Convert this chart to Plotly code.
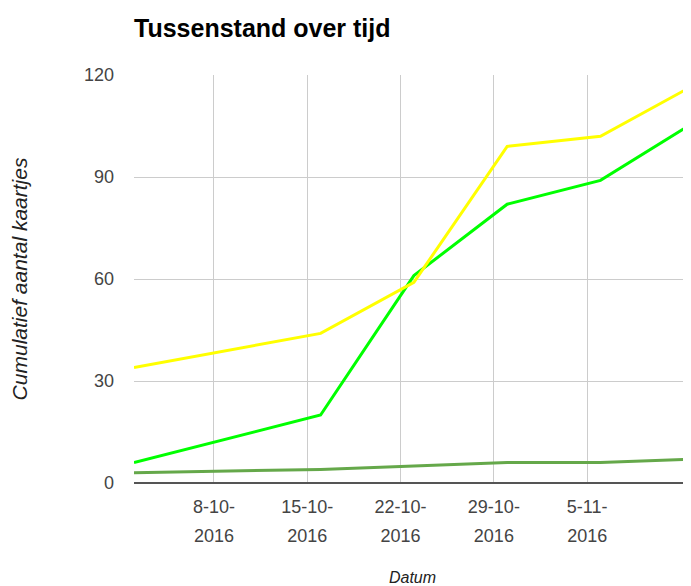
import plotly.graph_objects as go

# ---- data ----
dates = ["2016-10-02", "2016-10-16", "2016-10-23", "2016-10-30", "2016-11-06", "2016-11-13"]
series_yellow = [34, 44, 59, 99, 102, 117]
series_green = [6, 20, 61, 82, 89, 106]
series_darkgreen = [3, 4, 5, 6, 6, 7]

tick_dates = ["2016-10-08", "2016-10-15", "2016-10-22", "2016-10-29", "2016-11-05"]
tick_line1 = ["8-10-", "15-10-", "22-10-", "29-10-", "5-11-"]
tick_line2 = ["2016", "2016", "2016", "2016", "2016"]
y_ticks = [0, 30, 60, 90, 120]

x_range = ["2016-10-02", "2016-11-12 19:00"]

FONT = "Arial, Liberation Sans, sans-serif"

fig = go.Figure()
for vals, col in [(series_darkgreen, "#65a84a"), (series_green, "#00ff00"), (series_yellow, "#ffff00")]:
    fig.add_trace(go.Scatter(x=dates, y=vals, mode="lines",
                             line=dict(color=col, width=3), showlegend=False,
                             hoverinfo="skip"))
# invisible companion trace so the second (year) tick row is drawn
fig.add_trace(go.Scatter(x=dates, y=series_darkgreen, xaxis="x2", mode="lines",
                         line=dict(color="rgba(0,0,0,0)", width=0),
                         showlegend=False, hoverinfo="skip"))

H = 578
fig.update_layout(
    width=683, height=H,
    margin=dict(l=126, r=0, t=67, b=103),
    paper_bgcolor="white", plot_bgcolor="white",
    font=dict(family=FONT, color="#444444"),
    title=dict(text="<b>Tussenstand over tijd</b>", x=0, xref="paper",
               y=1 - 20 / H, yref="container", yanchor="middle", xanchor="left",
               font=dict(size=25, color="#000000", family=FONT)),
    xaxis=dict(range=x_range, type="date", tickmode="array",
               tickvals=tick_dates, ticktext=tick_line1,
               showgrid=True, gridcolor="#cccccc", gridwidth=1,
               zeroline=False, showline=False, ticks="",
               tickfont=dict(size=18, color="#444444"),
               ticklabelstandoff=11,
               title=dict(text="<i>Datum</i>", font=dict(size=16, color="#222222"),
                          standoff=58)),
    xaxis2=dict(range=x_range, type="date", overlaying="x", side="bottom",
                anchor="y", tickmode="array", tickvals=tick_dates,
                ticktext=tick_line2, showgrid=False, zeroline=False,
                showline=False, ticks="",
                tickfont=dict(size=18, color="#444444"),
                ticklabelstandoff=40),
    yaxis=dict(range=[0, 120], tickmode="array", tickvals=y_ticks,
               showgrid=True, gridcolor="#cccccc", gridwidth=1,
               zeroline=True, zerolinecolor="#555555", zerolinewidth=2,
               showline=False, ticks="",
               tickfont=dict(size=18, color="#444444"),
               ticklabelstandoff=19,
               title=dict(text="<i>Cumulatief aantal kaartjes</i>",
                          font=dict(size=21, color="#222222"), standoff=59)),
    hovermode=False,
)

fig.write_html("out.html")
